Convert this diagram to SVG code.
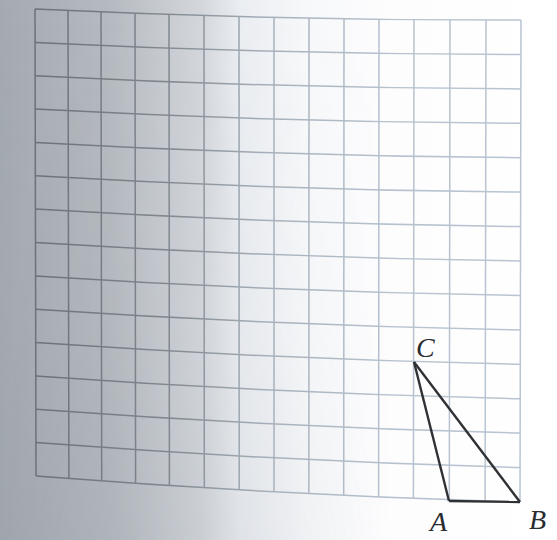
<svg xmlns="http://www.w3.org/2000/svg" width="557" height="540" viewBox="0 0 557 540">
  <defs>
    <linearGradient id="bg" x1="0" y1="0" x2="557" y2="0" gradientUnits="userSpaceOnUse">
      <stop offset="0" stop-color="#a4aab1"/>
      <stop offset="0.2" stop-color="#b6bbc1"/>
      <stop offset="0.36" stop-color="#d3d7dc"/>
      <stop offset="0.43" stop-color="#eaedf1"/>
      <stop offset="0.55" stop-color="#f7f8fa"/>
      <stop offset="0.7" stop-color="#fdfdfe"/>
      <stop offset="1" stop-color="#ffffff"/>
    </linearGradient>
    <linearGradient id="shade" x1="0" y1="0" x2="0" y2="540" gradientUnits="userSpaceOnUse">
      <stop offset="0" stop-color="#8e959d" stop-opacity="0"/>
      <stop offset="0.6" stop-color="#8e959d" stop-opacity="0.08"/>
      <stop offset="1" stop-color="#8e959d" stop-opacity="0.22"/>
    </linearGradient>
    <linearGradient id="shadeMask" x1="0" y1="0" x2="557" y2="0" gradientUnits="userSpaceOnUse">
      <stop offset="0" stop-color="#fff"/>
      <stop offset="0.45" stop-color="#fff" stop-opacity="0.5"/>
      <stop offset="0.7" stop-color="#fff" stop-opacity="0"/>
    </linearGradient>
    <mask id="m">
      <rect width="557" height="540" fill="url(#shadeMask)"/>
    </mask>
    <linearGradient id="ink" x1="0" y1="0" x2="557" y2="0" gradientUnits="userSpaceOnUse">
      <stop offset="0" stop-color="#656c73"/>
      <stop offset="0.3" stop-color="#80878f"/>
      <stop offset="0.48" stop-color="#a7b0ba"/>
      <stop offset="0.7" stop-color="#b6c2ce"/>
      <stop offset="1" stop-color="#b9c5d2"/>
    </linearGradient>
  </defs>
  <style>
    .g { fill: none; stroke: url(#ink); stroke-width: 1.5; }
    .tri { fill: none; stroke: #2f3134; stroke-width: 2.4; stroke-linejoin: miter; }
    .lbl { font-style: italic; font-size: 28px; fill: #2a2c30; }
  </style>

  <rect id="background" width="557" height="540" fill="url(#bg)"/>
  <rect width="557" height="540" fill="url(#shade)" mask="url(#m)"/>

  <g id="grid">
    <g id="grid-rows">
      <path class="g" d="M35,9 Q278,20.5 521,20"/>
      <path class="g" d="M35.1,42.4 Q278,54.4 520.9,54.4"/>
      <path class="g" d="M35.1,75.7 Q278,88.3 520.9,88.9"/>
      <path class="g" d="M35.2,109.1 Q278,122.2 520.8,123.3"/>
      <path class="g" d="M35.3,142.4 Q278,156.1 520.7,157.7"/>
      <path class="g" d="M35.4,175.8 Q278,190 520.6,192.1"/>
      <path class="g" d="M35.4,209.1 Q278,223.9 520.6,226.6"/>
      <path class="g" d="M35.5,242.5 Q278,257.8 520.5,261"/>
      <path class="g" d="M35.6,275.9 Q278,291.6 520.4,295.4"/>
      <path class="g" d="M35.6,309.2 Q278,325.5 520.4,329.9"/>
      <path class="g" d="M35.7,342.6 Q278,359.4 520.3,364.3"/>
      <path class="g" d="M35.8,375.9 Q278,393.3 520.2,398.7"/>
      <path class="g" d="M35.9,409.3 Q278,427.2 520.1,433.1"/>
      <path class="g" d="M35.9,442.6 Q278,461.1 520.1,467.6"/>
      <path class="g" d="M36,476 Q278,495 520,502"/>
    </g>
    <g id="grid-cols">
      <path class="g" d="M35,9 L36,476"/>
      <path class="g" d="M68,10.5 L68.9,478.5"/>
      <path class="g" d="M101,11.9 L101.7,481"/>
      <path class="g" d="M135,13.2 L135.6,483.3"/>
      <path class="g" d="M169,14.4 L169.4,485.6"/>
      <path class="g" d="M204,15.6 L204.3,487.8"/>
      <path class="g" d="M239,16.5 L239.2,489.8"/>
      <path class="g" d="M274,17.4 L274,491.8"/>
      <path class="g" d="M309,18.2 L308.9,493.6"/>
      <path class="g" d="M344,18.8 L343.7,495.3"/>
      <path class="g" d="M379,19.3 L378.6,496.9"/>
      <path class="g" d="M414,19.6 L413.4,498.3"/>
      <path class="g" d="M450,19.9 L449.3,499.8"/>
      <path class="g" d="M486,20 L485.1,500.9"/>
      <path class="g" d="M521,20 L520,502"/>
    </g>
  </g>

  <g id="connectors">
    <path id="CA" class="tri" d="M414,362 L449,501"/>
    <path id="AB" class="tri" d="M449,501 L520,502"/>
    <path id="BC" class="tri" d="M520,502 L414,362"/>
  </g>

  <g id="node-C"><text class="lbl" font-family="'Liberation Serif', 'DejaVu Serif', serif" x="416" y="357">C</text></g>
  <g id="node-A"><text class="lbl" font-family="'Liberation Serif', 'DejaVu Serif', serif" x="430" y="531">A</text></g>
  <g id="node-B"><text class="lbl" font-family="'Liberation Serif', 'DejaVu Serif', serif" x="529" y="529">B</text></g>
</svg>
